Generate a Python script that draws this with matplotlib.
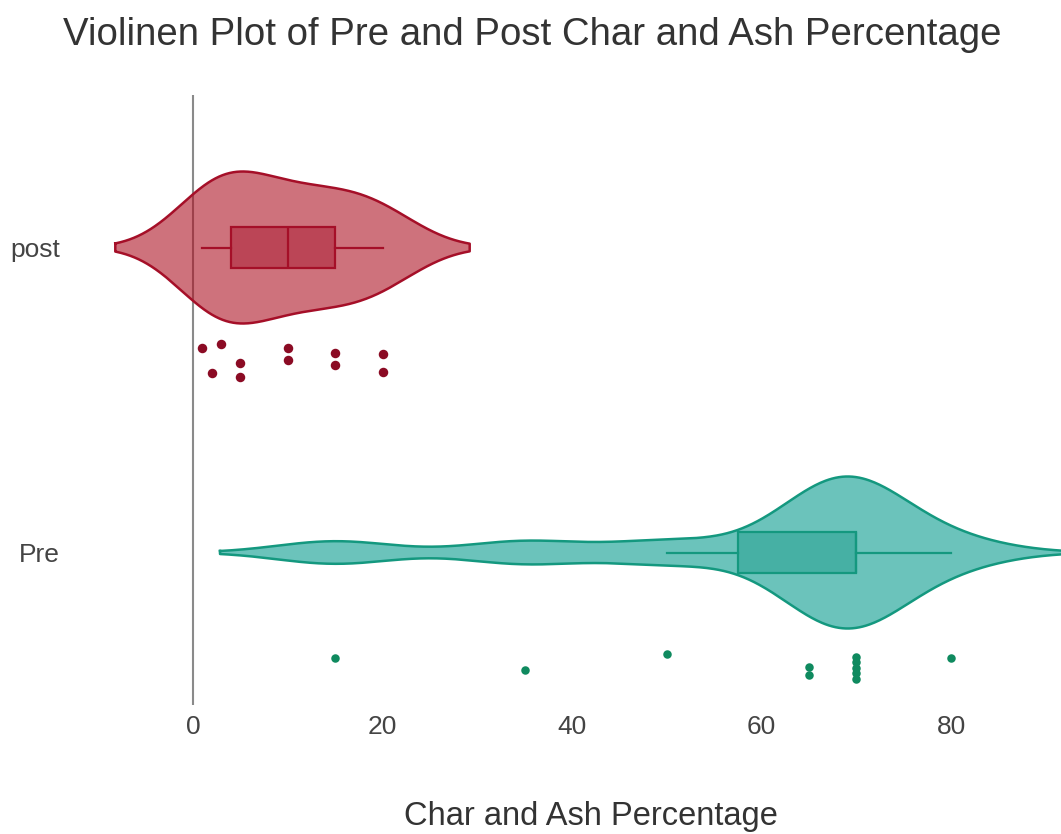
import numpy as np
import matplotlib
matplotlib.use('Agg')
import matplotlib.pyplot as plt

# ---------------- data ----------------
categories = ['Pre', 'post']
pre_values = [15, 35, 50, 65, 65, 70, 70, 70, 70, 70, 80]
post_values = [1, 2, 3, 5, 5, 10, 10, 15, 15, 20, 20]
x_ticks = [0, 20, 40, 60, 80]
title_text = "Violinen Plot of Pre and Post Char and Ash Percentage"
x_title = "Char and Ash Percentage"

# ---------------- layout / style ----------------
W, H = 1061, 834
PX_PER_UNIT_Y = 305.0
# vertical offsets (pixels below the violin centre) of the scattered points
pre_jitter_px = [105, 117, 101, 114, 122, 104, 109, 115, 120, 126, 105]
post_jitter_px = [100, 125, 96, 115, 129, 100, 112, 105, 117, 106, 124]

styles = {
    'Pre': dict(line='#14987f', fill='#00988a', box='#1b9a88', pts='#0f8a5f', psize=8.5),
    'post': dict(line='#a50f28', fill='#ac0d1e', box='#a50f28', pts='#8b0b24', psize=9.5),
}

plt.rcParams['font.family'] = ['Liberation Sans', 'DejaVu Sans']

fig = plt.figure(figsize=(W / 100, H / 100), dpi=100)
L, R, T, B = 75, 1061, 95, 705
ax = fig.add_axes([L / W, 1 - B / H, (R - L) / W, (B - T) / H])
x0_px, ux = 193.0, (951.0 - 193.0) / 80.0
ax.set_xlim((L - x0_px) / ux, (R - x0_px) / ux)
ax.set_ylim(-0.5, 1.5)

for s in ax.spines.values():
    s.set_visible(False)

# zero line
ax.axvline(0, color='#8a8a8a', lw=1.5, zorder=1)


def kde(vals):
    v = np.asarray(vals, float)
    n = len(v)
    std = v.std(ddof=1)
    q1, q3 = np.percentile(v, [25, 75])
    bw = 1.059 * min(std, (q3 - q1) / 1.349) * n ** -0.2
    grid = np.linspace(v.min() - 2 * bw, v.max() + 2 * bw, 500)
    dens = np.exp(-0.5 * ((grid[:, None] - v[None, :]) / bw) ** 2).sum(1)
    return grid, dens / dens.max()


half_w = 76 / PX_PER_UNIT_Y
box_w = 2 * 20.5 / PX_PER_UNIT_Y
series = {'Pre': pre_values, 'post': post_values}
jit = {'Pre': pre_jitter_px, 'post': post_jitter_px}

for pos, cat in enumerate(categories):
    vals = series[cat]
    st = styles[cat]
    g, d = kde(vals)
    ax.fill_between(g, pos - half_w * d, pos + half_w * d, facecolor=st['fill'],
                    alpha=0.58, edgecolor='none', zorder=2)
    ax.plot(np.r_[g, g[::-1], g[:1]],
            np.r_[pos + half_w * d, (pos - half_w * d)[::-1], pos + half_w * d[:1]],
            color=st['line'], lw=1.8, zorder=3)
    bp = ax.boxplot([vals], positions=[pos], orientation='horizontal', widths=box_w,
                    patch_artist=True, showfliers=False, showcaps=False, whis=1.5,
                    manage_ticks=False, zorder=4)
    for b in bp['boxes']:
        b.set_facecolor(matplotlib.colors.to_rgba(st['box'], 0.45))
        b.set_edgecolor(st['line'])
        b.set_linewidth(1.6)
    for wsk in bp['whiskers']:
        wsk.set_color(st['line'])
        wsk.set_linewidth(1.6)
    for m in bp['medians']:
        m.set_color(st['line'])
        m.set_linewidth(1.6)
    yoff = pos - np.asarray(jit[cat]) / PX_PER_UNIT_Y
    ax.plot(vals, yoff, 'o', ls='none', color=st['pts'], ms=st['psize'] * 0.72,
            mec='none', zorder=5)

ax.set_xticks(x_ticks)
ax.set_xticklabels([str(t) for t in x_ticks])
ax.set_yticks(range(len(categories)))
ax.set_yticklabels(categories)
ax.tick_params(axis='both', length=0, labelsize=19, labelcolor='#444444')
ax.tick_params(axis='x', pad=7)
ax.tick_params(axis='y', pad=11)

renderer = fig.canvas.get_renderer()


def fit_text(x, y, s, width_px, size0=20):
    t = fig.text(x / W, 1 - y / H, s, ha='center', va='center', fontsize=size0, color='#333333')
    w = t.get_window_extent(renderer).width
    t.set_fontsize(size0 * width_px / w)
    return t


fit_text(532, 35, title_text, 935)
fit_text(591, 817, x_title, 372)

fig.savefig('out.png', dpi=100, facecolor='white')
